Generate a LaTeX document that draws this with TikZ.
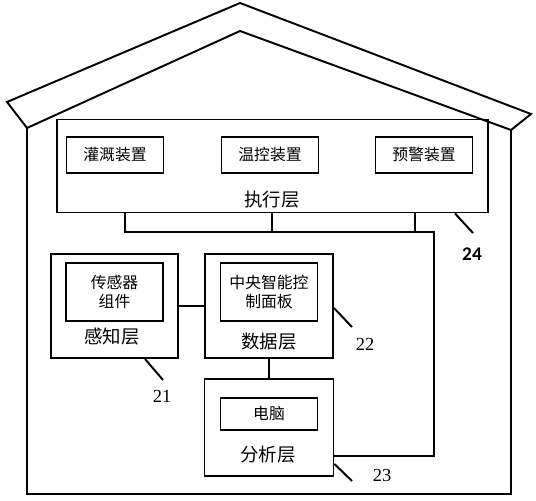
\documentclass[tikz,border=0pt]{standalone}
\usepackage{fontspec}
\newfontfamily\cjk{Noto Sans CJK SC}
\newfontfamily\numfont{Liberation Serif}
\newfontfamily\tagfont{Carlito}
\usetikzlibrary{positioning}

\begin{document}
\begin{tikzpicture}[
  x=0.02cm, y=-0.02cm,
  line width=1.1pt,
  font=\cjk\fontsize{9}{11.3}\selectfont,
  layerbox/.style={draw, rectangle, inner sep=0pt},
  unitbox/.style={draw, rectangle, align=center, inner sep=0pt, minimum width=1.94cm},
  layername/.style={font=\cjk\fontsize{10.5}{12}\selectfont},
  tagnum/.style={font=\numfont\fontsize{10.5}{12}\selectfont}
]
\useasboundingbox (0,0) rectangle (536,500);

% house outline
\draw[line join=miter] (27,128) -- (7,102) -- (240,3) -- (531,114) -- (511,130) -- (240,31) -- cycle;
\draw (27,128) -- (27,494) -- (511,494) -- (511,130);

% execution layer
\node[layerbox, minimum width=8.62cm, minimum height=1.86cm] (exec) at (272.5,166) {};
\node[unitbox, minimum height=0.72cm] (irrig) at (115,155) {灌溉装置};
\node[unitbox, minimum height=0.72cm] (temp) at (270,155) {温控装置};
\node[unitbox, minimum height=0.72cm] (warn) at (424,155) {预警装置};
\node[layername] (execlbl) at (272,200) {执行层};

% perception, data and analysis layers
\node[layerbox, minimum width=2.54cm, minimum height=2.08cm] (sense) at (114.5,306) {};
\node[unitbox, minimum height=1.16cm] (sensor) at (114.5,292) {传感器\\组件};
\node[layername] (senselbl) at (112,337) {感知层};

\node[layerbox, minimum width=2.56cm, minimum height=2.08cm] (data) at (269,306) {};
\node[unitbox, minimum height=1.16cm] (panel) at (269,292) {中央智能控\\制面板};
\node[layername] (datalbl) at (269,342) {数据层};

\node[layerbox, minimum width=2.58cm, minimum height=1.94cm] (anal) at (269,427.5) {};
\node[unitbox, minimum height=0.64cm] (pc) at (269,414) {电脑};
\node[layername] (anallbl) at (268,455) {分析层};

% connection lines
\coordinate (busL) at (125,232);
\coordinate (busM) at (272,232);
\coordinate (busN) at (415,232);
\coordinate (busR) at (434,232);
\coordinate (loopB) at (434,456);

\draw (exec.south -| busL) -- (busL) -- (busR) -- (loopB) -- (loopB -| anal.east);
\draw (exec.south -| busM) -- (busM);
\draw (exec.south -| busN) -- (busN);
\draw (sense.east) -- (data.west);
\draw (data.south) -- (anal.north);

% reference numerals
\node[tagnum] (n21) at (162,396) {21};
\node[tagnum] (n22) at (365,344) {22};
\node[tagnum] (n23) at (382,475) {23};
\node[font=\tagfont\bfseries\fontsize{11}{12}\selectfont] (n24) at (472,254) {24};

\coordinate (t21) at (163,380);
\coordinate (t22) at (352,327);
\coordinate (t23) at (352,481);
\coordinate (t24) at (473,233);
\draw (sense.south -| 145,0) -- (t21);
\draw (data.east |- 0,308) -- (t22);
\draw (anal.east |- 0,464) -- (t23);
\draw (exec.south -| 455,0) -- (t24);
\end{tikzpicture}
\end{document}
